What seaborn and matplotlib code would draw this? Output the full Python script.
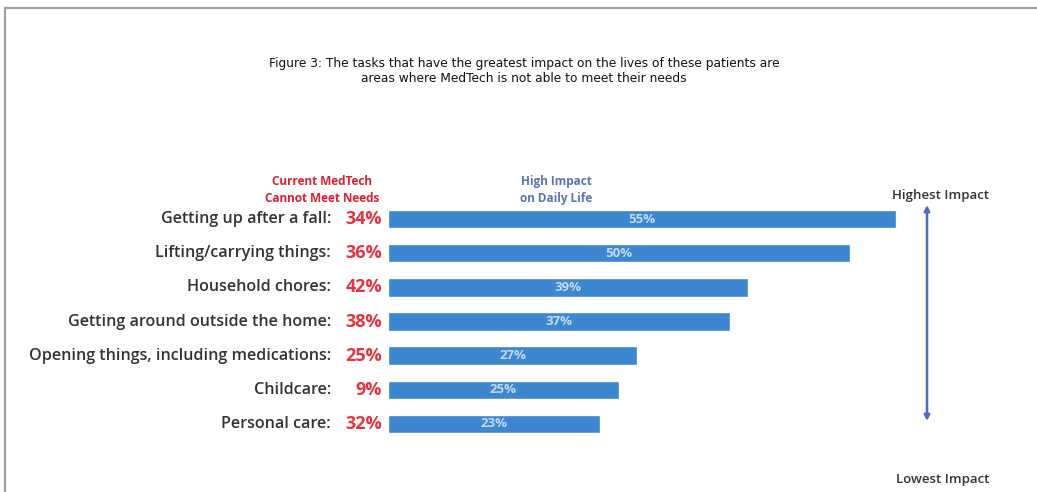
import matplotlib
matplotlib.use("Agg")
import matplotlib.pyplot as plt
from matplotlib.lines import Line2D
import seaborn as sns
import pandas as pd

# Tasks, share reporting high daily-life impact, and share saying current MedTech cannot meet needs
tasks = [
    "Getting up after a fall:",
    "Lifting/carrying things:",
    "Household chores:",
    "Getting around outside the home:",
    "Opening things, including medications:",
    "Childcare:",
    "Personal care:",
]
high_impact = [55, 50, 39, 37, 27, 25, 23]
cannot_meet = [34, 36, 42, 38, 25, 9, 32]

df = pd.DataFrame({"task": tasks, "impact": high_impact})

sns.set_theme(style="white")
plt.rcParams["font.family"] = ["Open Sans", "DejaVu Sans"]

W, H = 1037, 492
fig = plt.figure(figsize=(W / 100, H / 100), dpi=100)
fig.patch.set_facecolor("white")

ax = fig.add_axes([388 / W, 1 - 441 / H, (1025 - 388) / W, (441 - 202) / H])
sns.barplot(data=df, y="task", x="impact", orient="h", color="#3d86d0",
            saturation=1, width=0.54, ax=ax)
ax.set_xlim(0, 69)
ax.set_ylim(6.5, -0.5)
ax.set_axis_off()

BAR_TEXT = "#c2daf2"
for i, v in enumerate(high_impact):
    ax.text(v / 2, i, f"{v}%", ha="center", va="center", color=BAR_TEXT,
            fontsize=9.5, fontweight="bold")

trans = ax.get_yaxis_transform()
for i, (t, c) in enumerate(zip(tasks, cannot_meet)):
    ax.text((331 - 388) / (1025 - 388), i, t, transform=trans, ha="right",
            va="center", color="#333333", fontsize=11.6, fontweight="semibold")
    ax.text((382 - 388) / (1025 - 388), i, f"{c}%", transform=trans, ha="right",
            va="center", color="#e8323f", fontsize=13, fontweight="bold")

# Column headers
fig.text(322 / W, 1 - 190 / H, "Current MedTech\nCannot Meet Needs", ha="center",
         va="center", color="#e01e30", fontsize=8.5, fontweight="bold", linespacing=1.35)
fig.text(556 / W, 1 - 190 / H, "High Impact\non Daily Life", ha="center",
         va="center", color="#5b72b5", fontsize=8.5, fontweight="bold", linespacing=1.35)

# Impact scale arrow
fig.text(940 / W, 1 - 196 / H, "Highest Impact", ha="center", va="center",
         color="#333333", fontsize=9.5, fontweight="semibold")
fig.text(943 / W, 1 - 480 / H, "Lowest Impact", ha="center", va="center",
         color="#333333", fontsize=9.5, fontweight="semibold")
ax.annotate("", xy=(927 / W, 1 - 205 / H), xytext=(927 / W, 1 - 421 / H),
            xycoords="figure fraction", textcoords="figure fraction",
            arrowprops=dict(arrowstyle="<|-|>", color="#4a6cc2", lw=1.8,
                            mutation_scale=8, shrinkA=0, shrinkB=0))

# Title
fig.text(524 / W, 1 - 71 / H,
         "Figure 3: The tasks that have the greatest impact on the lives of these patients are\n"
         "areas where MedTech is not able to meet their needs",
         ha="center", va="center", color="#111111", fontsize=8.8,
         family=["DejaVu Sans"], linespacing=1.25)

# Page frame
fig.add_artist(Line2D([5 / W, 1], [1 - 8 / H, 1 - 8 / H], transform=fig.transFigure,
                      color="#a0a0a0", lw=1.6))
fig.add_artist(Line2D([5 / W, 5 / W], [0, 1 - 8 / H], transform=fig.transFigure,
                      color="#a0a0a0", lw=1.6))

fig.savefig("out.png", dpi=100, facecolor="white")
